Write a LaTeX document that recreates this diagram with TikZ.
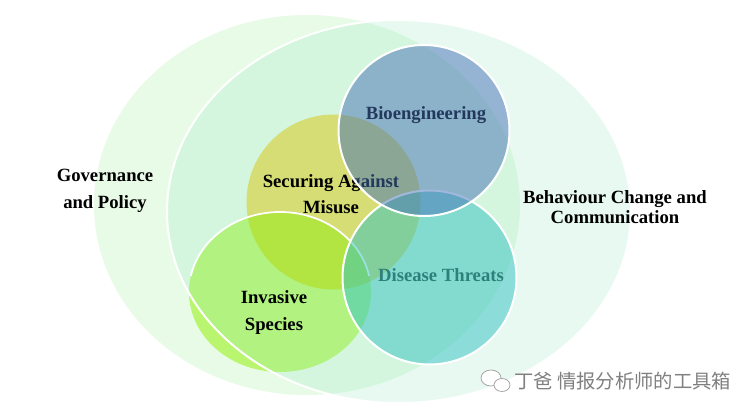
\documentclass[tikz,border=0pt]{standalone}
\usepackage{fontspec}
\setmainfont{Liberation Serif}
\newfontfamily\cjkfont{Noto Sans CJK SC}
\definecolor{govc}{HTML}{E8FBE6}
\definecolor{behc}{HTML}{96E8C3}
\definecolor{secc}{HTML}{E8DA5E}
\definecolor{invc}{HTML}{B9F56E}
\definecolor{ovlc}{HTML}{BBE51D}
\definecolor{bioc}{HTML}{4470B8}
\definecolor{disc}{HTML}{32C2C4}
\definecolor{dist}{HTML}{2C3C30}
\tikzset{
  blob/.style={line width=1.5pt,draw=white},
  lbl/.style={font=\bfseries\fontsize{14}{20}\selectfont,align=center,text=black,inner sep=0pt},
  lbltight/.style={lbl,font=\bfseries\fontsize{14}{15}\selectfont},
}
\begin{document}
\begin{tikzpicture}[x=0.75pt,y=-0.75pt]
\useasboundingbox (0,0) rectangle (739,414);
\fill[white] (0,0) rectangle (739,414);
\fill[govc] (307,205) ellipse [x radius=213,y radius=190];
\fill[secc] (333.5,202) ellipse [x radius=87,y radius=87.5];
\fill[invc] (280,292) ellipse [x radius=91,y radius=80];
\begin{scope}
  \clip (333.5,202) ellipse [x radius=87,y radius=87.5];
  \fill[ovlc] (280,292) ellipse [x radius=91,y radius=80];
\end{scope}
\draw[blob,fill=behc,fill opacity=.22] (399,211.5) ellipse [x radius=232,y radius=191.5];
\begin{scope}
  \clip (150,180) rectangle (390,275);
  \draw[white,line width=1.3pt] (280,292) ellipse [x radius=91,y radius=80];
\end{scope}
\node[lbl] (gov) at (105,190.5) {Governance\\and Policy};
\node[lbltight] (beh) at (615,207) {Behaviour Change and\\Communication};
\node[lbl] (sec) at (331,194) {Securing Against\\Misuse};
\node[lbl,text=dist] (dis) at (441,275) {Disease Threats};
\draw[blob,fill=disc,fill opacity=.5] (429.5,277.5) circle [radius=87];
\node[lbl] (bio) at (426,115.5) {Bioengineering};
\draw[blob,fill=bioc,fill opacity=.5] (424,130.5) circle [radius=85.5];
\node[lbl] (inv) at (274,312.5) {Invasive\\Species};
% watermark
\draw[black!35,fill=white,line width=.6pt] (491,378) ellipse [x radius=10,y radius=8];
\draw[black!35,fill=white,line width=.6pt] (502,385) ellipse [x radius=8,y radius=6.5];
\node[font=\cjkfont\fontsize{14.5}{17}\selectfont,text=black!50,anchor=west,inner sep=0pt] (wm) at (514,381) {丁爸 情报分析师的工具箱};
\end{tikzpicture}
\end{document}
